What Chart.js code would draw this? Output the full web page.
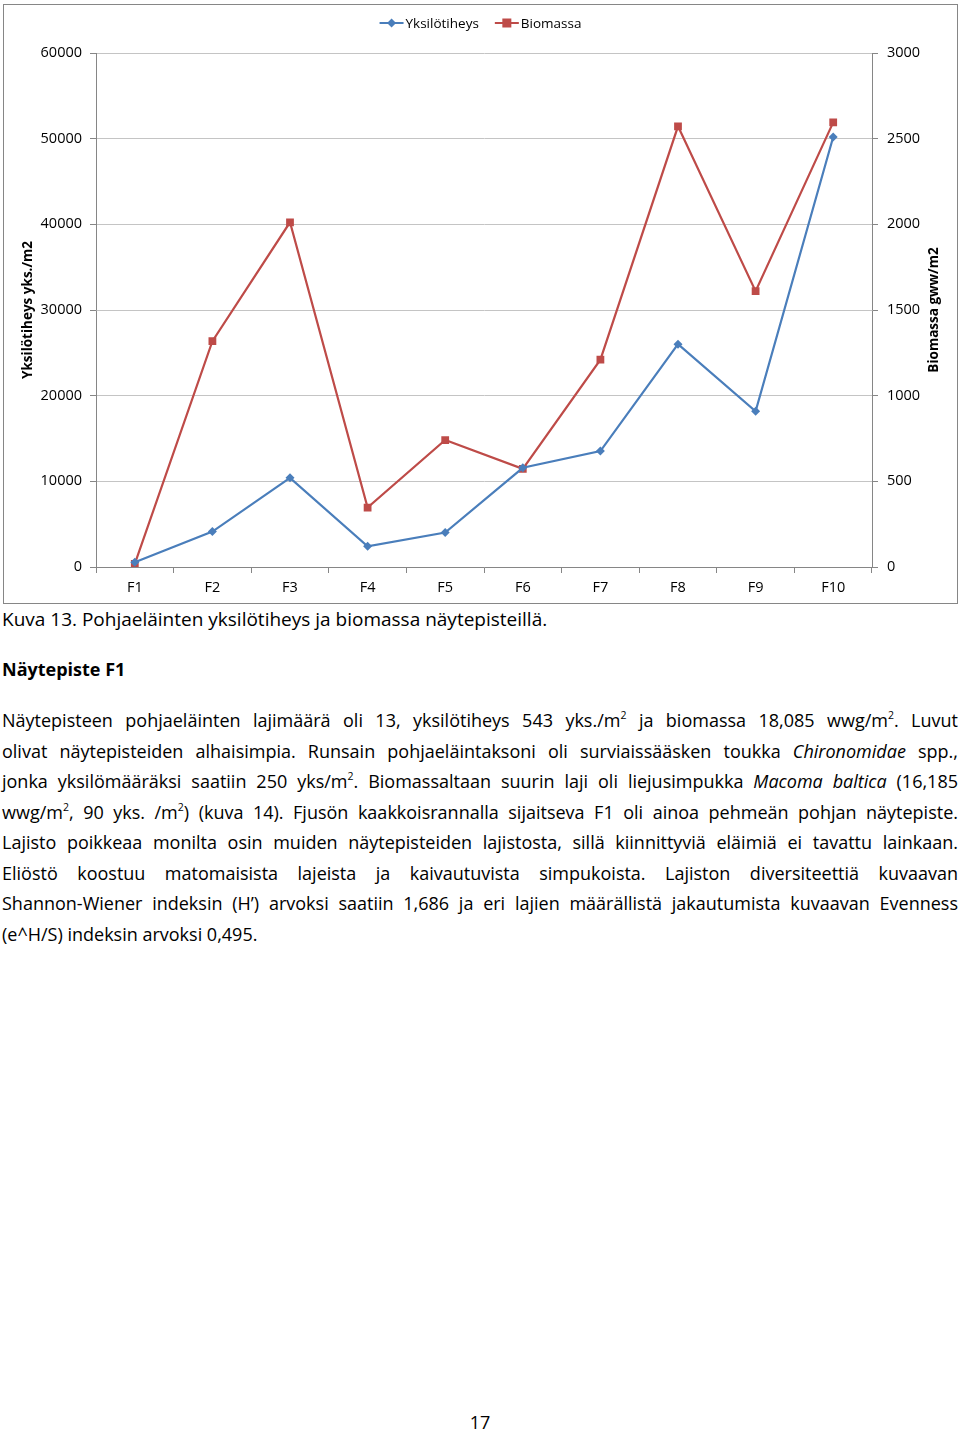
<!DOCTYPE html>
<html>
<head>
<meta charset="utf-8">
<script src="https://cdn.jsdelivr.net/npm/chart.js@4.4.1/dist/chart.umd.min.js"></script>
<style>
  html, body { margin: 0; padding: 0; background: #fff; }
  body { width: 960px; height: 1432px; position: relative; overflow: hidden;
         font-family: "Open Sans", "Noto Sans", sans-serif; color: #000; }
  .chartbox { position: absolute; left: 3px; top: 4px; width: 955px; height: 600px;
              box-sizing: border-box; border: 1px solid #868686; }
  .chartbox canvas { display: block; }
  .txt { position: absolute; left: 2px; width: 956px; font-size: 18px; white-space: nowrap; }
  .caption { top: 604px; line-height: 30px; font-size: 19px; }
  .heading { top: 654px; line-height: 30px; font-weight: bold; }
  .para { top: 705px; line-height: 30.5px; }
  .para div { text-align: justify; text-align-last: justify; }
  .para div.last { text-align-last: left; }
  sup { font-size: 10.5px; line-height: 0; position: relative; top: -1px; vertical-align: super; }
  .pageno { position: absolute; top: 1407px; left: 0; width: 960px; text-align: center;
            font-size: 18px; line-height: 30px; }
</style>
</head>
<body>
<div class="chartbox"><canvas id="chart"></canvas></div>

<div class="txt caption">Kuva 13. Pohjaeläinten yksilötiheys ja biomassa näytepisteillä.</div>
<div class="txt heading">Näytepiste F1</div>
<div class="txt para">
  <div>Näytepisteen pohjaeläinten lajimäärä oli 13, yksilötiheys 543 yks./m<sup>2</sup> ja biomassa 18,085 wwg/m<sup>2</sup>. Luvut</div>
  <div>olivat näytepisteiden alhaisimpia. Runsain pohjaeläintaksoni oli surviaissääsken toukka <i>Chironomidae</i> spp.,</div>
  <div>jonka yksilömääräksi saatiin 250 yks/m<sup>2</sup>. Biomassaltaan suurin laji oli liejusimpukka <i>Macoma baltica</i> (16,185</div>
  <div>wwg/m<sup>2</sup>, 90 yks. /m<sup>2</sup>) (kuva 14). Fjusön kaakkoisrannalla sijaitseva F1 oli ainoa pehmeän pohjan näytepiste.</div>
  <div>Lajisto poikkeaa monilta osin muiden näytepisteiden lajistosta, sillä kiinnittyviä eläimiä ei tavattu lainkaan.</div>
  <div>Eliöstö koostuu matomaisista lajeista ja kaivautuvista simpukoista. Lajiston diversiteettiä kuvaavan</div>
  <div>Shannon-Wiener indeksin (H’) arvoksi saatiin 1,686 ja eri lajien määrällistä jakautumista kuvaavan Evenness</div>
  <div class="last">(e^H/S) indeksin arvoksi 0,495.</div>
</div>
<div class="pageno">17</div>

<script>
// sample stations and measured values
const stations = ['F1', 'F2', 'F3', 'F4', 'F5', 'F6', 'F7', 'F8', 'F9', 'F10'];
const density = [543, 4140, 10410, 2420, 4020, 11580, 13530, 26010, 18180, 50200];   // yks./m2
const biomass = [18, 1318, 2012, 347, 741, 573, 1210, 2572, 1610, 2595];             // gww/m2

const seriesNames = ['Yksilötiheys', 'Biomassa'];
const axisTitles = ['Yksilötiheys yks./m2', 'Biomassa gww/m2'];

const blue = '#4a7ebb';
const red = '#be4b48';
const axisGray = '#868686';
const gridGray = '#c4c4c4';
const tickFont = { family: 'Open Sans', size: 14.5 };

// legend drawn Excel-style: line with marker, then the label
const excelLegend = {
    id: 'excelLegend',
    afterDraw(chart) {
        const ctx = chart.ctx;
        ctx.save();
        ctx.font = '13.5px "Open Sans"';
        ctx.textBaseline = 'middle';
        const items = chart.data.datasets.map(ds => ({
            ds: ds, w: 24 + 2 + ctx.measureText(ds.label).width
        }));
        const gap = 16;
        const total = items.reduce((a, it) => a + it.w, 0) + gap * (items.length - 1);
        let x = chart.width / 2 - total / 2;
        const y = 18;
        items.forEach(it => {
            ctx.strokeStyle = it.ds.borderColor;
            ctx.lineWidth = 2;
            ctx.beginPath();
            ctx.moveTo(x, y);
            ctx.lineTo(x + 24, y);
            ctx.stroke();
            ctx.fillStyle = it.ds.backgroundColor;
            ctx.beginPath();
            if (it.ds.pointStyle === 'rect') {
                ctx.rect(x + 12 - 4.5, y - 4.5, 9, 9);
            } else {
                ctx.moveTo(x + 12, y - 4.5);
                ctx.lineTo(x + 16.5, y);
                ctx.lineTo(x + 12, y + 4.5);
                ctx.lineTo(x + 7.5, y);
                ctx.closePath();
            }
            ctx.fill();
            ctx.fillStyle = '#000';
            ctx.fillText(it.ds.label, x + 26, y + 1);
            x += it.w + gap;
        });
        ctx.restore();
    }
};

// both axis titles read bottom-to-top, as in the original
const axisTitlePlugin = {
    id: 'axisTitlePlugin',
    afterDraw(chart) {
        const ctx = chart.ctx;
        const area = chart.chartArea;
        const cy = (area.top + area.bottom) / 2;
        ctx.save();
        ctx.font = 'bold 13.5px "Open Sans"';
        ctx.fillStyle = '#000';
        ctx.textAlign = 'center';
        ctx.textBaseline = 'middle';
        [[24, axisTitles[0]], [930, axisTitles[1]]].forEach(([x, t]) => {
            ctx.save();
            ctx.translate(x, cy);
            ctx.rotate(-Math.PI / 2);
            ctx.fillText(t, 0, 0);
            ctx.restore();
        });
        ctx.restore();
    }
};

const plainNumber = v => String(v);

document.addEventListener('DOMContentLoaded', () => {
    const ctx = document.getElementById('chart').getContext('2d');
    new Chart(ctx, {
        type: 'line',
        data: {
            labels: stations,
            datasets: [{
                label: seriesNames[0],
                data: density,
                yAxisID: 'y',
                borderColor: blue,
                backgroundColor: blue,
                borderWidth: 2.2,
                pointStyle: 'rectRot',
                pointRadius: 4.5,
                pointBorderWidth: 0,
                tension: 0
            }, {
                label: seriesNames[1],
                data: biomass,
                yAxisID: 'y1',
                borderColor: red,
                backgroundColor: red,
                borderWidth: 2.2,
                pointStyle: 'rect',
                pointRadius: 5.5,
                pointBorderWidth: 0,
                tension: 0
            }]
        },
        options: {
            responsive: true,
            maintainAspectRatio: false,
            animation: false,
            layout: { padding: { top: 48, left: 0, right: 0, bottom: 0 } },
            plugins: {
                legend: { display: false },
                tooltip: { enabled: false }
            },
            scales: {
                x: {
                    offset: true,
                    grid: { offset: true, drawOnChartArea: false, color: axisGray, tickLength: 6 },
                    border: { color: axisGray },
                    ticks: { color: '#000', font: tickFont, padding: 6, maxRotation: 0 },
                    afterFit: s => { s.height = 36; }
                },
                y: {
                    position: 'left',
                    min: 0, max: 60000,
                    ticks: { stepSize: 10000, color: '#000', font: tickFont, padding: 8, callback: plainNumber },
                    grid: { color: gridGray, tickLength: 6, tickColor: axisGray },
                    border: { color: axisGray },
                    afterFit: s => { s.width = 92; }
                },
                y1: {
                    position: 'right',
                    min: 0, max: 3000,
                    ticks: { stepSize: 500, color: '#000', font: tickFont, padding: 9, callback: plainNumber },
                    grid: { drawOnChartArea: false, color: axisGray, tickLength: 6 },
                    border: { color: axisGray },
                    afterFit: s => { s.width = 85; }
                }
            }
        },
        plugins: [excelLegend, axisTitlePlugin]
    });
});
</script>
</body>
</html>
